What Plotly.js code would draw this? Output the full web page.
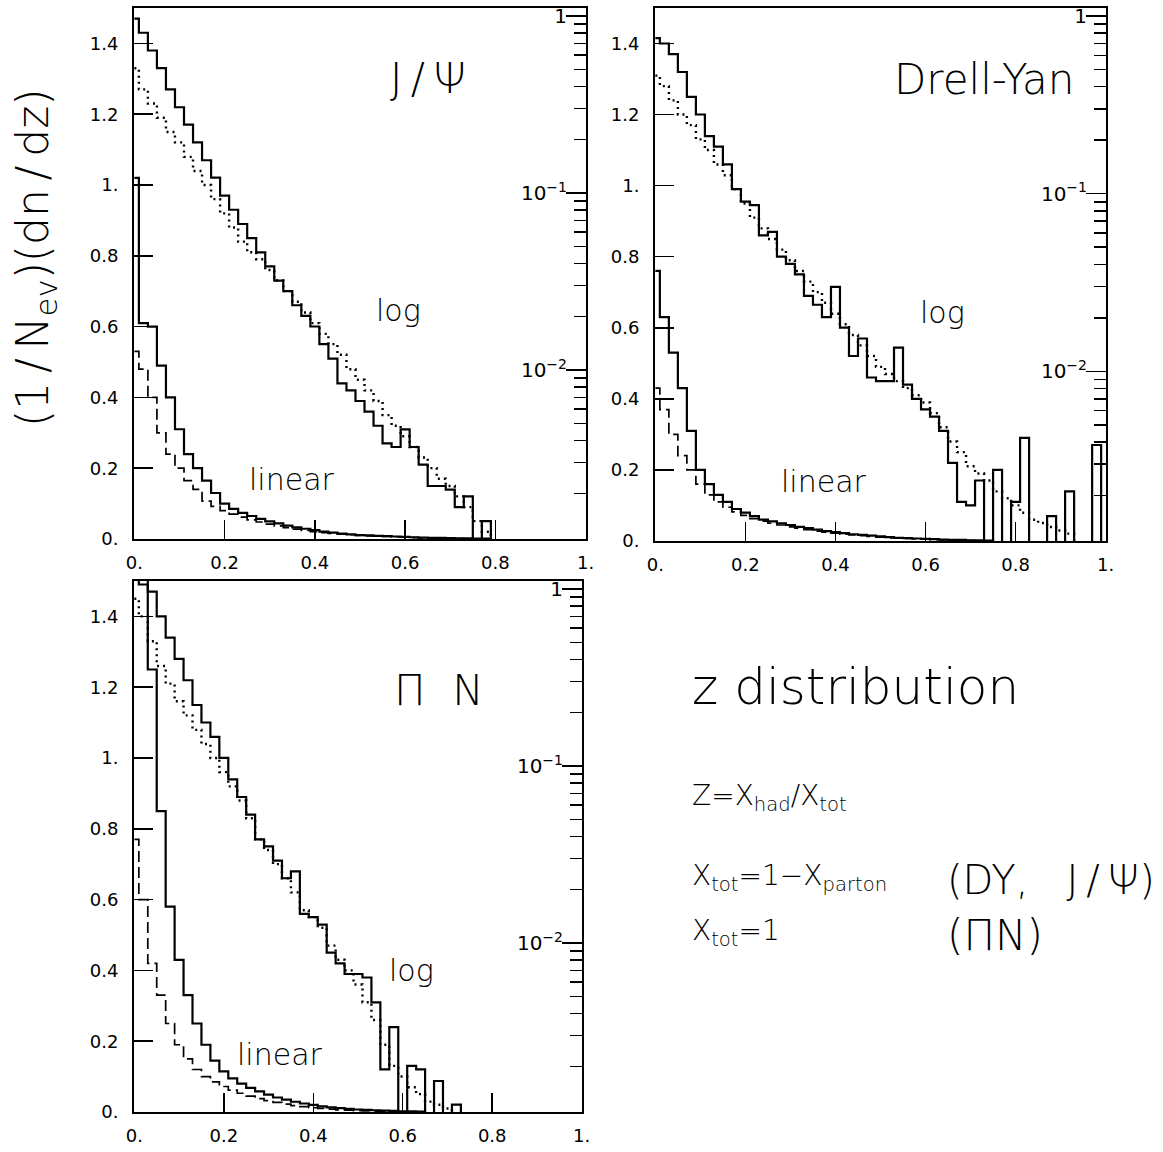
<!DOCTYPE html>
<html><head><meta charset="utf-8">
<script src="https://cdn.plot.ly/plotly-3.0.1.min.js"></script>
<style>html,body{margin:0;padding:0;background:#fff}</style>
</head><body><div id="chart" style="width:1163px;height:1152px"></div>
<script>
// bin edges of the z histograms (bins of 0.02 centred on 0, 0.02, 0.04 ...)
const BIN_EDGES = [0,0.01,0.03,0.05,0.07,0.09,0.11,0.13,0.15,0.17,0.19,0.21,0.23,0.25,0.27,0.29,0.31,0.33,0.35,0.37,0.39,0.41,0.43,0.45,0.47,0.49,0.51,0.53,0.55,0.57,0.59,0.61,0.63,0.65,0.67,0.69,0.71,0.73,0.75,0.77,0.79,0.81,0.83,0.85,0.87,0.89,0.91,0.93,0.95,0.97,0.99,1.0];

// ---- J/psi ----
const JPSI_LIN_SOLID = [1.02,0.61,0.60,0.49,0.40,0.31,0.24,0.20,0.165,0.13,0.10,0.085,0.074,0.065,0.057,0.050,0.044,0.038,0.033,0.029,0.025,0.021,0.018,0.015,0.013,0.011,0.010,0.009,0.008,0.007,0.006,0.005,0.004,0.0035,0.003,0.0025,0.002,0.0015,0.001,0.001];
const JPSI_LIN_DASH = [0.53,0.48,0.40,0.30,0.24,0.20,0.165,0.14,0.107,0.092,0.080,0.070,0.062,0.054,0.048,0.042,0.037,0.032,0.028,0.024,0.021,0.018,0.016,0.014,0.012,0.010,0.009,0.008,0.007,0.006,0.005,0.004,0.003,0.0025,0.002,0.0015,0.001];
const JPSI_LOG_SOLID = [0.966,0.804,0.638,0.507,0.385,0.305,0.243,0.193,0.153,0.122,0.0966,0.0804,0.0668,0.0556,0.0462,0.0385,0.0320,0.0279,0.0232,0.0202,0.0176,0.0140,0.0116,0.00841,0.00767,0.00668,0.00582,0.00484,0.00385,0.00367,0.00462,0.00367,0.00292,0.00221,0.00221,0.00211,0.00168,0.00193,0,0.00140];
const JPSI_LOG_DOT = [0.507,0.385,0.320,0.266,0.221,0.193,0.160,0.133,0.111,0.0923,0.0767,0.0638,0.0531,0.0462,0.0422,0.0367,0.0320,0.0279,0.0243,0.0211,0.0184,0.0160,0.0140,0.0122,0.0101,0.00881,0.00767,0.00668,0.00556,0.00484,0.00422,0.00367,0.00320,0.00279,0.00243,0.00221,0.00193,0.00168,0.00140,0.00122];

// ---- Drell-Yan ----
const DY_LIN_SOLID = [0.76,0.63,0.53,0.43,0.31,0.20,0.16,0.13,0.11,0.09,0.08,0.07,0.06,0.055,0.05,0.045,0.04,0.036,0.032,0.028,0.025,0.022,0.019,0.017,0.015,0.013,0.011,0.009,0.008,0.007,0.006,0.005,0.004,0.003,0.003,0.002,0.002,0.001];
const DY_LIN_DASH = [0.43,0.37,0.30,0.24,0.20,0.16,0.13,0.11,0.095,0.082,0.072,0.063,0.056,0.05,0.045,0.04,0.036,0.032,0.028,0.025,0.022,0.019,0.017,0.015,0.013,0.011,0.009,0.008,0.007,0.006,0.005,0.004,0.003,0.002,0.002,0.001];
const DY_LOG_SOLID = [0.750,0.700,0.610,0.484,0.351,0.279,0.211,0.184,0.146,0.106,0.0902,0.0861,0.0582,0.0610,0.0442,0.0403,0.0351,0.0266,0.0237,0.0202,0.0299,0.0176,0.0122,0.0153,0.00923,0.00881,0.00881,0.0136,0.00841,0.00700,0.00610,0.00556,0.00462,0.00305,0.00184,0.00176,0.00243,0,0.00279,0,0.00184,0.00422,0,0,0.00153,0,0.00211,0,0,0.00385,0];
const DY_LOG_DOT = [0.462,0.403,0.335,0.279,0.243,0.202,0.176,0.146,0.127,0.106,0.0881,0.0733,0.0638,0.0556,0.0484,0.0422,0.0367,0.0320,0.0279,0.0243,0.0211,0.0184,0.0160,0.0140,0.0122,0.0106,0.00966,0.00881,0.00804,0.00733,0.00668,0.00582,0.00484,0.00403,0.00351,0.00292,0.00266,0.00243,0.00211,0.00193,0.00176,0.00160,0.00146,0.00140,0.00133,0.00127,0.00122];

// ---- pi N ----
const PIN_LIN_SOLID = [1.6,1.6,1.25,0.85,0.58,0.43,0.33,0.25,0.19,0.145,0.115,0.095,0.08,0.068,0.058,0.049,0.041,0.035,0.029,0.024,0.020,0.016,0.013,0.011,0.009,0.007,0.006,0.005,0.004,0.003,0.002,0.002,0.001];
const PIN_LIN_DASH = [0.77,0.60,0.42,0.33,0.25,0.19,0.15,0.12,0.10,0.085,0.072,0.062,0.053,0.045,0.038,0.032,0.027,0.022,0.018,0.015,0.012,0.010,0.008,0.006,0.005,0.004,0.003,0.002,0.0015,0.001];
const PIN_LOG_SOLID = [1.40,1.06,0.966,0.700,0.531,0.403,0.305,0.221,0.176,0.146,0.111,0.0841,0.0668,0.0531,0.0385,0.0351,0.0292,0.0232,0.0254,0.0146,0.0140,0.0127,0.00881,0.00767,0.00668,0.00668,0.00638,0.00462,0.00193,0.00335,0,0.00202,0.00193,0,0.00166,0,0.00122];
const PIN_LOG_DOT = [0.881,0.700,0.507,0.367,0.292,0.232,0.193,0.160,0.133,0.111,0.0923,0.0767,0.0638,0.0507,0.0385,0.0335,0.0279,0.0232,0.0193,0.0153,0.0140,0.0122,0.00966,0.00804,0.00700,0.00582,0.00462,0.00367,0.00266,0.00202,0.00176,0.00153,0.00140,0.00127,0.00122,0.00116];

// axis ticks
const X_TICKS = [0,0.2,0.4,0.6,0.8,1.0];
const X_TICKTEXT = ['0.','0.2','0.4','0.6','0.8','1.'];
const Y_TICKS = [0,0.2,0.4,0.6,0.8,1.0,1.2,1.4];
const Y_TICKTEXT = ['0.','0.2','0.4','0.6','0.8','1.','1.2','1.4'];
const LOG_TICKS = [0.01,0.1,1];
const LOG_TICKTEXT = ['10<sup>−2</sup>','10<sup>−1</sup>','1'];
const LOG_MINOR = [0.002,0.003,0.004,0.005,0.006,0.007,0.008,0.009,0.02,0.03,0.04,0.05,0.06,0.07,0.08,0.09,0.2,0.3,0.4,0.5,0.6,0.7,0.8,0.9];

const FONT = 'DejaVu Sans, Liberation Sans, sans-serif';

function stepTrace(vals, xa, ya, floor, line) {
  const n = vals.length;
  const x = BIN_EDGES.slice(0, n + 1);
  // empty bins are drawn down to the floor (below the visible range on log axes)
  const y = vals.map(v => (v > 0 ? v : floor));
  y.push(floor);
  return {x: x, y: y, xaxis: xa, yaxis: ya, type: 'scatter', mode: 'lines',
          line: Object.assign({shape: 'hv', color: '#000'}, line), hoverinfo: 'skip'};
}

const SOLID = {width: 2.2};
const DASH = {width: 1.7, dash: '11px,5px'};
const DOT = {width: 2.4, dash: '2px,4px'};

const panels = [
  {xa:'x',  lin:'y',  log:'y2', d:[JPSI_LIN_SOLID,JPSI_LIN_DASH,JPSI_LOG_SOLID,JPSI_LOG_DOT]},
  {xa:'x2', lin:'y3', log:'y4', d:[DY_LIN_SOLID,DY_LIN_DASH,DY_LOG_SOLID,DY_LOG_DOT]},
  {xa:'x3', lin:'y5', log:'y6', d:[PIN_LIN_SOLID,PIN_LIN_DASH,PIN_LOG_SOLID,PIN_LOG_DOT]}
];
const traces = [];
panels.forEach(p => {
  traces.push(stepTrace(p.d[0], p.xa, p.lin, 0, SOLID));
  traces.push(stepTrace(p.d[1], p.xa, p.lin, 0, DASH));
  traces.push(stepTrace(p.d[2], p.xa, p.log, 1e-5, SOLID));
  traces.push(stepTrace(p.d[3], p.xa, p.log, 1e-5, DOT));
});

const W = 1163, H = 1152;
function xdom(a, b) { return [a / W, b / W]; }
function ydom(top, bottom) { return [1 - bottom / H, 1 - top / H]; }

function xAxis(dom, anchor) {
  return {domain: dom, anchor: anchor, range: [-0.0008, 1.0008], tickmode: 'array', tickvals: X_TICKS, ticktext: X_TICKTEXT,
          ticks: 'inside', ticklen: 19, tickwidth: 1.5, tickcolor: '#000', showline: true, mirror: true,
          linecolor: '#000', linewidth: 2, showgrid: false, zeroline: false, ticklabelstandoff: 6,
          tickfont: {family: FONT, size: 18, color: '#000'}};
}
function yLin(dom, anchor) {
  return {domain: dom, anchor: anchor, range: [0, 1.5], tickmode: 'array', tickvals: Y_TICKS, ticktext: Y_TICKTEXT,
          ticks: 'inside', ticklen: 19, tickwidth: 1.5, tickcolor: '#000', showline: true, mirror: false,
          linecolor: '#000', linewidth: 2, showgrid: false, zeroline: false, ticklabelstandoff: 10,
          tickfont: {family: FONT, size: 18, color: '#000'}};
}
function yLog(over, anchor) {
  return {overlaying: over, anchor: anchor, side: 'right', type: 'log', range: [-2.955, 0.045],
          tickmode: 'array', tickvals: LOG_TICKS, ticktext: LOG_TICKTEXT, ticks: 'inside', ticklen: 20,
          tickwidth: 1.5, tickcolor: '#000', ticklabelposition: 'inside', ticklabeloverflow: 'allow',
          showline: true, linecolor: '#000', linewidth: 2, showgrid: false, zeroline: false,
          minor: {tickmode: 'array', tickvals: LOG_MINOR, ticks: 'inside', ticklen: 12, tickwidth: 1.5, tickcolor: '#000', showgrid: false},
          tickfont: {family: FONT, size: 20, color: '#000'}};
}

function label(text, xref, yref, x, y, size, extra) {
  return Object.assign({text: text, xref: xref, yref: yref, x: x, y: y, showarrow: false,
                        xanchor: 'center', yanchor: 'middle',
                        font: {family: FONT, size: size, color: '#000', weight: 200}}, extra || {});
}

const annotations = [
  label('J\u2009/\u2009Ψ', 'x', 'y', 0.65, 1.30, 42),
  label('log', 'x', 'y', 0.585, 0.646, 30),
  label('linear', 'x', 'y', 0.35, 0.168, 30),
  label('Drell-Yan', 'x2', 'y3', 0.73, 1.30, 42),
  label('log', 'x2', 'y3', 0.637, 0.644, 30),
  label('linear', 'x2', 'y3', 0.375, 0.167, 30),
  label('Π  N', 'x3', 'y5', 0.68, 1.19, 42),
  label('log', 'x3', 'y5', 0.62, 0.40, 30),
  label('linear', 'x3', 'y5', 0.325, 0.163, 30),
  label('(1\u2009/\u2009N<sub>ev</sub>)(dn\u2009/\u2009dz)', 'paper', 'paper', 35 / W, 1 - 258 / H, 44, {textangle: -90}),
  label('z distribution', 'paper', 'paper', 855 / W, 1 - 687 / H, 50),
  label('Z=X<sub>had</sub>/X<sub>tot</sub>', 'paper', 'paper', 690 / W, 1 - 797 / H, 28, {xanchor: 'left'}),
  label('X<sub>tot</sub>=1−X<sub>parton</sub>', 'paper', 'paper', 690 / W, 1 - 877 / H, 28, {xanchor: 'left'}),
  label('(DY,   J\u2009/\u2009Ψ)', 'paper', 'paper', 945 / W, 1 - 880 / H, 40, {xanchor: 'left'}),
  label('X<sub>tot</sub>=1', 'paper', 'paper', 690 / W, 1 - 932 / H, 28, {xanchor: 'left'}),
  label('(ΠN)', 'paper', 'paper', 945 / W, 1 - 935 / H, 42, {xanchor: 'left'})
];

const layout = {
  width: W, height: H, margin: {l: 0, r: 0, t: 0, b: 0},
  paper_bgcolor: '#fff', plot_bgcolor: 'rgba(0,0,0,0)', showlegend: false,
  font: {family: FONT, color: '#000'},
  xaxis: xAxis(xdom(134, 586), 'y'),
  yaxis: yLin(ydom(8, 539), 'x'),
  yaxis2: yLog('y', 'x'),
  xaxis2: xAxis(xdom(655, 1106), 'y3'),
  yaxis3: yLin(ydom(8, 541), 'x2'),
  yaxis4: yLog('y3', 'x2'),
  xaxis3: xAxis(xdom(134, 582), 'y5'),
  yaxis5: yLin(ydom(581, 1112), 'x3'),
  yaxis6: yLog('y5', 'x3'),
  annotations: annotations
};

Plotly.newPlot('chart', traces, layout, {staticPlot: true, displayModeBar: false});
</script>
</body></html>
